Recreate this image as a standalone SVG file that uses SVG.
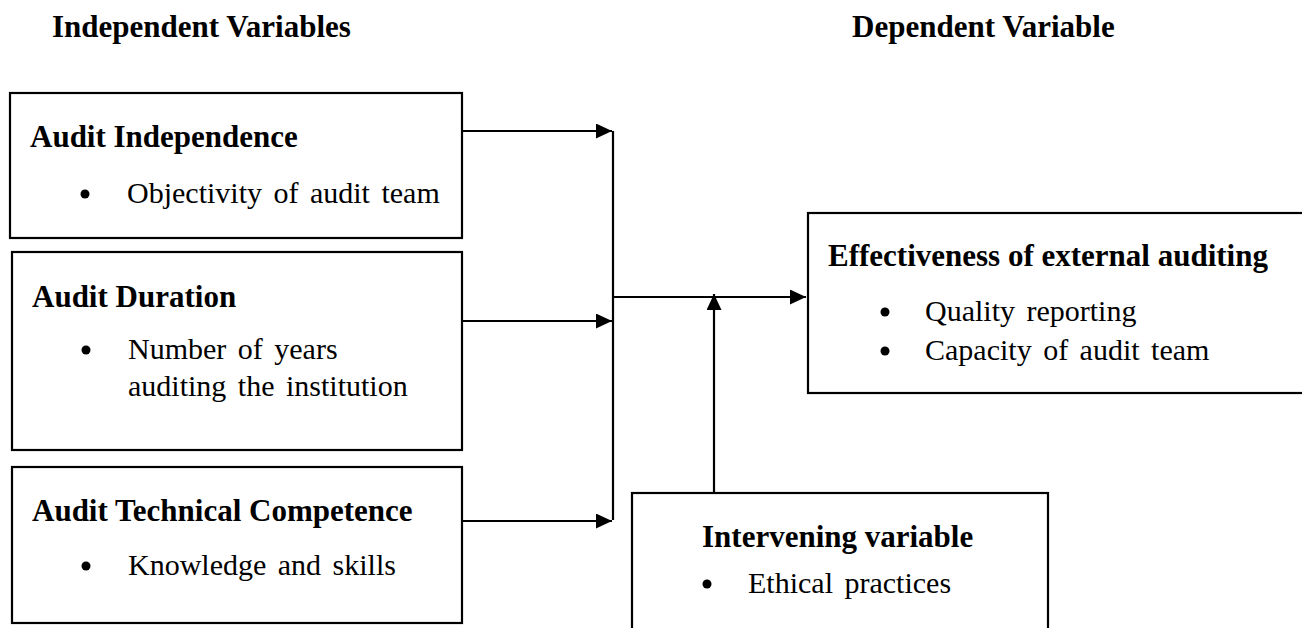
<svg xmlns="http://www.w3.org/2000/svg" width="1302" height="628" viewBox="0 0 1302 628">
<style>
  .box{fill:#fff;stroke:#000;stroke-width:2.2}
  .hd{font-family:"Liberation Serif","Times New Roman",serif;font-weight:bold;font-size:31px;fill:#000}
  .tx{font-family:"Liberation Serif","Times New Roman",serif;font-size:30px;fill:#000;word-spacing:4px}
  .bul{fill:#000}
  .con{stroke:#000;stroke-width:2.2;fill:none}
</style>
<defs>
  <marker id="arr" markerUnits="userSpaceOnUse" markerWidth="18" markerHeight="16" refX="16" refY="7.5" orient="auto">
    <path d="M0,0 L16,7.5 L0,15 z" fill="#000"/>
  </marker>
</defs>
<rect width="1302" height="628" fill="#fff"/>
<text class="hd" x="52" y="37">Independent Variables</text>
<text class="hd" x="852" y="37">Dependent Variable</text>

<g id="connectors">
  <line class="con" x1="463" y1="131" x2="612" y2="131" marker-end="url(#arr)"/>
  <line class="con" x1="463" y1="321" x2="612" y2="321" marker-end="url(#arr)"/>
  <line class="con" x1="463" y1="521" x2="612" y2="521" marker-end="url(#arr)"/>
  <line class="con" x1="613" y1="131" x2="613" y2="520"/>
  <line class="con" x1="613" y1="297" x2="806" y2="297" marker-end="url(#arr)"/>
  <line class="con" x1="714" y1="493" x2="714" y2="294" marker-end="url(#arr)"/>
</g>

<g id="audit-independence">
  <rect class="box" x="10" y="93" width="452" height="145"/>
  <text class="hd" x="30" y="147">Audit Independence</text>
  <circle class="bul" cx="85" cy="194" r="4.5"/>
  <text class="tx" x="127" y="203">Objectivity of audit team</text>
</g>

<g id="audit-duration">
  <rect class="box" x="12" y="252" width="450" height="198"/>
  <text class="hd" x="32" y="307">Audit Duration</text>
  <circle class="bul" cx="86" cy="350" r="4.5"/>
  <text class="tx" x="128" y="359">Number of years</text>
  <text class="tx" x="128" y="396">auditing the institution</text>
</g>

<g id="audit-competence">
  <rect class="box" x="12" y="467" width="450" height="156"/>
  <text class="hd" x="32" y="521">Audit Technical Competence</text>
  <circle class="bul" cx="86" cy="566" r="4.5"/>
  <text class="tx" x="128" y="575">Knowledge and skills</text>
</g>

<g id="effectiveness">
  <rect class="box" x="808" y="213" width="510" height="180"/>
  <text class="hd" x="828" y="266">Effectiveness of external auditing</text>
  <circle class="bul" cx="885" cy="312" r="4.5"/>
  <text class="tx" x="925" y="321">Quality reporting</text>
  <circle class="bul" cx="885" cy="351" r="4.5"/>
  <text class="tx" x="925" y="360">Capacity of audit team</text>
</g>

<g id="intervening">
  <rect class="box" x="632" y="493" width="416" height="160"/>
  <text class="hd" x="702" y="547">Intervening variable</text>
  <circle class="bul" cx="707" cy="584" r="4.5"/>
  <text class="tx" x="748" y="593">Ethical practices</text>
</g>
</svg>
